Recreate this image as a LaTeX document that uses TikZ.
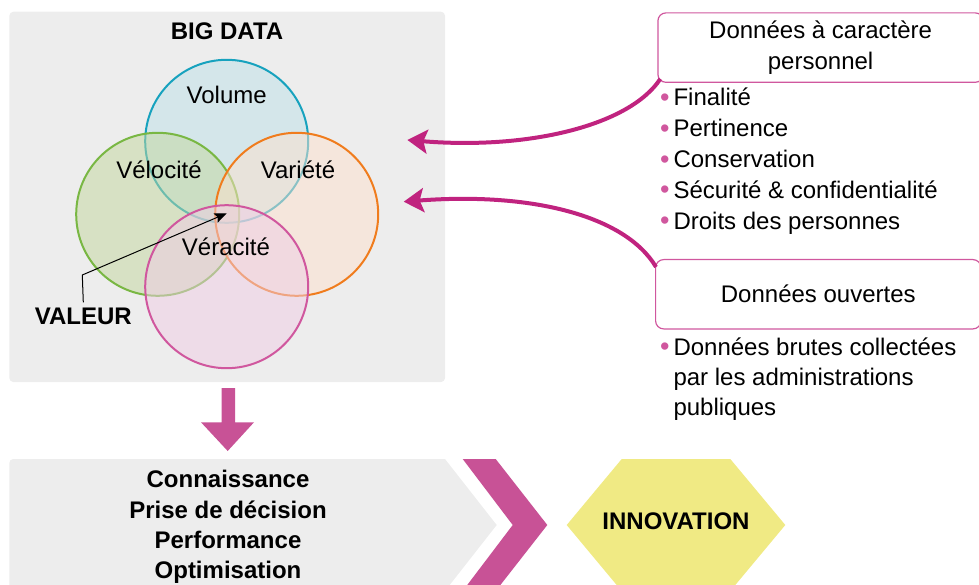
\documentclass[tikz,border=0pt]{standalone}
\usepackage{fontspec}
\setmainfont{Liberation Sans}
\usepackage{xcolor}
\usetikzlibrary{arrows.meta,positioning}
\definecolor{gris}{HTML}{EDEDED}
\definecolor{bleu}{HTML}{17A2BE}
\definecolor{bleuclair}{HTML}{BDE1E9}
\definecolor{vert}{HTML}{79B743}
\definecolor{vertclair}{HTML}{C3D79D}
\definecolor{orange}{HTML}{F07C1D}
\definecolor{orangeclair}{HTML}{FDE1CD}
\definecolor{rose}{HTML}{D0579E}
\definecolor{roseclair}{HTML}{EFCDE5}
\definecolor{magenta}{HTML}{C0237F}
\definecolor{bloc}{HTML}{C85296}
\definecolor{jaune}{HTML}{F0EA84}
\newcommand{\puce}{\makebox[0pt][r]{\color{rose}\fontsize{27}{27}\selectfont\raisebox{-0.5pt}{\textbullet}\hspace{4pt}}}
\tikzstyle{texte} = [inner sep=0pt, font=\fontsize{24}{30}\selectfont]
\tikzstyle{gras} = [inner sep=0pt, font=\fontsize{24}{30}\selectfont\bfseries, anchor=base]
\tikzstyle{etiquette} = [texte, anchor=base]
\tikzstyle{puceitem} = [texte, anchor=base west]
\tikzstyle{boite} = [draw=rose, line width=1.2pt, rounded corners=8pt, minimum width=325.4pt, anchor=north west, align=center, inner sep=0pt, font=\fontsize{24}{31.5}\selectfont]
\tikzstyle{cercle} = [circle, minimum size=163pt, inner sep=0pt, line width=2pt, fill opacity=0.5]
\tikzstyle{fleche} = [line width=4pt, draw=magenta, -{Stealth[length=20pt,width=24pt,inset=4pt]}]
\tikzstyle{pointeur} = [line width=1pt, -{Stealth[length=12pt,width=10pt,inset=2pt]}]

\begin{document}
\begin{tikzpicture}[x=1pt,y=-1pt]
\path[use as bounding box] (0,0) rectangle (979,585);
\clip (0,0) rectangle (979,585);

% big data
\node (bigdata) [fill=gris, rounded corners=4pt, minimum width=435.7pt, minimum height=370.3pt, inner sep=0pt] at (227.2,196.9) {};
\node (titre) [gras] at (227,39.3) {BIG DATA};
\node (cvolume) [cercle, draw=bleu, fill=bleuclair] at (226.7,141.3) {};
\node (cvelocite) [cercle, draw=vert, fill=vertclair] at (157.7,214.3) {};
\node (cvariete) [cercle, draw=orange, fill=orangeclair] at (296.7,214.3) {};
\node (cveracite) [cercle, draw=rose, fill=roseclair] at (226.7,286.7) {};
\node (volume) [etiquette] at (226.7,104) {Volume};
\node (velocite) [etiquette] at (159,179) {Vélocité};
\node (variete) [etiquette] at (298,179) {Variété};
\node (veracite) [etiquette] at (226,255) {Véracité};
\node (valeur) [gras] at (83.3,324) {VALEUR};
\coordinate (coude) at (82.3,275);
\coordinate (centre) at (226.7,213.3);
\draw [pointeur] ([yshift=5pt]valeur.north) -- (coude) -- (centre);

% donnees personnelles
\node (perso) [boite, minimum height=69.4pt] at (657.3,12.3) {Données à caractère\\personnel};
\node (finalite) [puceitem] at (673.3,106) {\puce Finalité};
\node (pertinence) [puceitem] at (673.3,136.8) {\puce Pertinence};
\node (conservation) [puceitem] at (673.3,167.6) {\puce Conservation};
\node (securite) [puceitem] at (673.3,198.4) {\puce Sécurité \& confidentialité};
\node (droits) [puceitem] at (673.3,229.2) {\puce Droits des personnes};

% donnees ouvertes
\node (ouvertes) [boite, minimum height=69.3pt] at (655,259) {Données ouvertes};
\node (brutes) [puceitem] at (673.3,355) {\puce Données brutes collectées};
\node (admin) [puceitem] at (673.3,385.5) {par les administrations};
\node (publiques) [puceitem] at (673.3,415) {publiques};

\coordinate (cible1) at (407.4,140);
\coordinate (cible2) at (403.7,201.7);
\draw [fleche] ([shift={(3,-4)}]perso.south west) .. controls (630,125) and (530,150) .. (cible1);
\draw [fleche] ([shift={(1,8)}]ouvertes.north west) .. controls (625,215) and (530,192) .. (cible2);

% resultat
\fill [bloc] (221.7,388) -- (235,388) -- (235,422.3) -- (254,422.3) -- (227.7,451) -- (201,422.3) -- (221.7,422.3) -- cycle;
\fill [gris, rounded corners=4pt] (9.3,595) -- (9.3,459) [sharp corners] -- (445,459) -- (496.7,525) -- (445,591) -- (9.3,591);
\node (connaissance) [gras] at (228,487) {Connaissance};
\node (decision) [gras] at (228,518) {Prise de décision};
\node (performance) [gras] at (228,548) {Performance};
\node (optimisation) [gras] at (228,578.5) {Optimisation};
\fill [bloc] (462.7,459) -- (495.7,459) -- (547.3,525) -- (495.7,591) -- (462.7,591) -- (512.7,525) -- cycle;
\fill [jaune] (566.7,525) -- (621.7,459) -- (730.3,459) -- (785.3,525) -- (730.3,591) -- (621.7,591) -- cycle;
\node (innovation) [gras] at (676,529) {INNOVATION};
\end{tikzpicture}
\end{document}
